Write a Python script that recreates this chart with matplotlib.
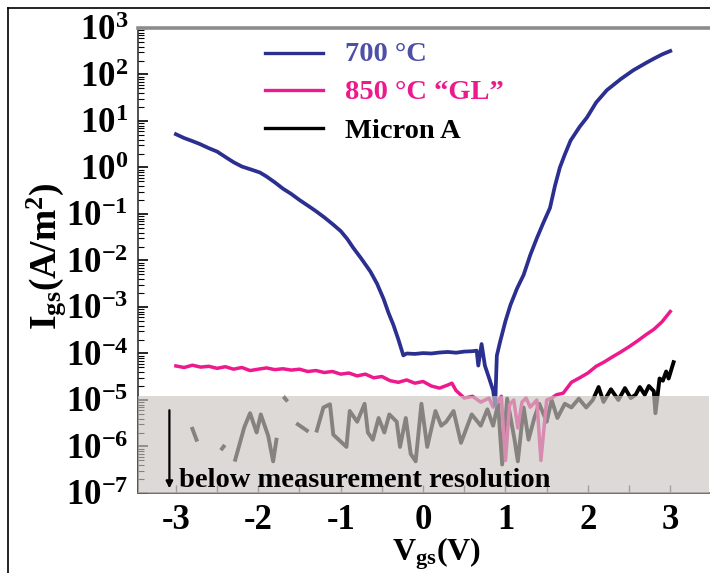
import numpy as np
import matplotlib
matplotlib.use('Agg')
import matplotlib.pyplot as plt
from matplotlib.lines import Line2D
from matplotlib.ticker import FixedLocator, LogLocator, NullFormatter

plt.rcParams['font.family'] = ['Liberation Serif', 'DejaVu Serif']
plt.rcParams['font.weight'] = 'bold'
plt.rcParams['mathtext.fontset'] = 'custom'
plt.rcParams['mathtext.rm'] = 'Liberation Serif:bold'
plt.rcParams['mathtext.bf'] = 'Liberation Serif:bold'
plt.rcParams['mathtext.it'] = 'Liberation Serif:bold'
plt.rcParams['axes.unicode_minus'] = False

nan = np.nan

# ---- data ----
v700 = [-3.0, -2.9, -2.8, -2.71, -2.6, -2.5, -2.38, -2.3, -2.2, -2.1, -1.98, -1.9, -1.8, -1.7,
        -1.6, -1.5, -1.37, -1.3, -1.2, -1.09, -1.0, -0.92, -0.85, -0.75, -0.64, -0.56, -0.48,
        -0.42, -0.36, -0.30, -0.24, -0.2, -0.1, 0.0, 0.1, 0.2, 0.3, 0.4, 0.5, 0.6, 0.65, 0.67,
        0.71, 0.75, 0.80, 0.85, 0.875, 0.895, 0.935, 1.0, 1.06, 1.14, 1.22, 1.30, 1.38, 1.46,
        1.54, 1.60, 1.66, 1.72, 1.79, 1.9, 1.99, 2.1, 2.23, 2.4, 2.55, 2.7, 2.8, 2.9, 3.0]
i700 = [5.2, 4.3, 3.7, 3.2, 2.6, 2.2, 1.6, 1.3, 1.05, 0.92, 0.78, 0.64, 0.48, 0.35,
        0.27, 0.2, 0.14, 0.115, 0.085, 0.059, 0.043, 0.029, 0.019, 0.011, 0.0058, 0.0032, 0.0015,
        7.5e-4, 4.1e-4, 2.0e-4, 9.1e-5, 1.0e-4, 0.98e-4, 1.02e-4, 1.0e-4, 1.05e-4, 1.08e-4,
        1.04e-4, 1.1e-4, 1.12e-4, 1.15e-4, 5.5e-5, 1.6e-4, 5.5e-5, 3.0e-5, 1.6e-5, 7.6e-6,
        9.0e-5, 1.8e-4, 5.0e-4, 1.1e-3, 2.5e-3, 4.9e-3, 1.3e-2, 3.0e-2, 6.5e-2, 0.135, 0.4,
        1.0, 1.9, 3.8, 7.5, 12, 25, 46, 80, 123, 175, 219, 270, 320]

v850 = [-3.0, -2.9, -2.8, -2.7, -2.6, -2.5, -2.4, -2.3, -2.2, -2.1, -2.0, -1.9, -1.8, -1.7,
        -1.6, -1.5, -1.4, -1.3, -1.2, -1.1, -1.0, -0.9, -0.8, -0.7, -0.6, -0.5, -0.4, -0.3,
        -0.2, -0.1, 0.0, 0.1, 0.2, 0.3, 0.35, 0.4, 0.5, 0.6, 0.7, 0.8, 0.85, 0.9, 0.95, 1.0,
        1.05, 1.1, 1.15, 1.2, 1.25, 1.3, 1.38, 1.43, 1.5, 1.56, 1.62, 1.7, 1.8, 1.9, 2.0, 2.1,
        2.2, 2.3, 2.4, 2.5, 2.6, 2.7, 2.8, 2.9, 3.0]
i850 = [5.4e-5, 5.0e-5, 5.6e-5, 5.1e-5, 5.3e-5, 4.8e-5, 5.2e-5, 4.6e-5, 5.0e-5, 4.3e-5, 4.6e-5,
        4.9e-5, 4.5e-5, 4.7e-5, 4.4e-5, 4.6e-5, 4.1e-5, 4.3e-5, 3.9e-5, 4.1e-5, 3.6e-5, 3.8e-5,
        3.3e-5, 3.6e-5, 3.0e-5, 3.2e-5, 2.6e-5, 2.4e-5, 2.7e-5, 2.3e-5, 2.5e-5, 2.0e-5, 1.8e-5,
        2.1e-5, 2.3e-5, 1.6e-5, 1.1e-5, 1.2e-5, 9.0e-6, 1.1e-5, 7.0e-6, 9.0e-6, 1.2e-5, 5.0e-7,
        8.0e-6, 1.0e-5, 2.5e-6, 9.0e-6, 1.1e-5, 7.0e-6, 1.0e-5, 5.0e-7, 1.0e-5, 1.1e-5, 1.3e-5,
        1.4e-5, 2.4e-5, 3.0e-5, 3.8e-5, 5.3e-5, 6.6e-5, 8.5e-5, 1.08e-4, 1.4e-4, 1.85e-4,
        2.5e-4, 3.3e-4, 4.8e-4, 8.0e-4]

vmic = [-2.80, -2.75, nan, -2.44, -2.42, nan, -2.28, -2.17, -2.10, -2.02, -1.97, -1.88, -1.82,
        -1.78, nan, -1.68, -1.66, nan, -1.52, -1.41, nan, -1.29, -1.21, -1.13, -1.09, -0.93,
        -0.89, -0.80, -0.71, -0.67, -0.61, -0.54, -0.47, -0.41, -0.32, -0.28, -0.21, -0.15,
        -0.09, -0.02, 0.05, 0.15, 0.22, 0.28, 0.37, 0.46, 0.59, 0.70, 0.78, 0.85, 0.91, 0.96,
        1.02, 1.11, 1.15, 1.22, 1.28, 1.35, 1.41, 1.50, 1.56, 1.63, 1.72, 1.80, 1.89, 1.98,
        2.06, 2.13, 2.19, 2.28, 2.37, 2.45, 2.52, 2.58, 2.63, 2.69, 2.74, 2.80, 2.82, 2.87,
        2.91, 2.95, 2.98, 3.04]
imic = [2.4e-6, 1.4e-6, nan, 9.0e-7, 1.0e-6, nan, 5.2e-7, 2.6e-6, 5.2e-6, 2.0e-6, 4.9e-6,
        1.7e-6, 4.8e-7, 1.4e-6, nan, 1.1e-5, 1.0e-5, nan, 3.0e-6, 2.2e-6, nan, 2.2e-6, 6.9e-6,
        8.1e-6, 1.8e-6, 9.8e-7, 5.8e-6, 3.4e-6, 8.3e-6, 2.0e-6, 1.4e-6, 4.1e-6, 2.0e-6,
        4.9e-6, 3.4e-6, 9.8e-7, 4.1e-6, 6.9e-7, 4.8e-7, 8.3e-6, 9.8e-7, 5.8e-6, 2.8e-6,
        3.4e-6, 5.8e-6, 1.2e-6, 4.9e-6, 2.8e-6, 6.3e-6, 2.8e-6, 8.3e-6, 4.1e-7, 1.07e-5,
        1.4e-6, 4.8e-7, 6.9e-6, 1.4e-6, 4.1e-6, 8.3e-6, 3.4e-6, 1.0e-5, 4.1e-6, 8.3e-6,
        6.9e-6, 1.07e-5, 6.9e-6, 1.0e-5, 1.9e-5, 9.1e-6, 1.7e-5, 1.0e-5, 1.8e-5, 1.1e-5,
        1.3e-5, 1.9e-5, 1.3e-5, 2.0e-5, 1.55e-5, 5.2e-6, 2.9e-5, 2.6e-5, 4.1e-5, 2.9e-5, 6.5e-5]

labels = ['700 \u00b0C', '850 \u00b0C \u201cGL\u201d', 'Micron A']
xticks = [-3, -2, -1, 0, 1, 2, 3]
ydecades = list(range(-7, 4))
resolution_limit = 1.2e-5

c_blue = '#2b2f8f'
c_pink = '#ec1a8c'
c_black = '#000000'

W, H = 710, 573
fig = plt.figure(figsize=(W / 100, H / 100), dpi=100)
L, R, T, B = 138, 709, 28, 493
ax = fig.add_axes([L / W, (H - B) / H, (R - L) / W, (B - T) / H])
ax.set_yscale('log')
ax.set_xlim(-3.46, 3.47)
ax.set_ylim(1e-7, 1e3)

ax.plot(vmic, imic, color=c_black, lw=2.8, zorder=2, solid_joinstyle='round')
ax.plot(v850, i850, color=c_pink, lw=2.5, zorder=2.5, solid_joinstyle='round')
ax.plot(v700, i700, color=c_blue, lw=2.7, zorder=3, solid_joinstyle='round')

ax.axhspan(1e-7, resolution_limit, facecolor=(0.80, 0.776, 0.76), alpha=0.66, lw=0, zorder=4)

# ticks
ax.xaxis.set_major_locator(FixedLocator(xticks))
ax.xaxis.set_minor_locator(FixedLocator([x + 0.5 for x in xticks[:-1]]))
ax.set_xticklabels([str(x) for x in xticks])
ax.yaxis.set_major_locator(FixedLocator([10.0 ** d for d in ydecades]))
ax.set_yticklabels([r'$\mathbf{10^{%d}}$' % d for d in ydecades])
ax.yaxis.set_minor_locator(LogLocator(base=10, subs=np.arange(2, 10), numticks=100))
ax.yaxis.set_minor_formatter(NullFormatter())
ax.tick_params(axis='x', which='both', direction='in', length=6, width=1, pad=8,
               labelsize=25, color='#555555')
ax.tick_params(axis='y', which='major', direction='in', length=7, width=1.2, pad=7,
               labelsize=25)
ax.tick_params(axis='y', which='minor', direction='in', length=4, width=0.8)
for lab in ax.get_xticklabels() + ax.get_yticklabels():
    lab.set_fontweight('bold')

ax.spines['top'].set_color('#8c8c8c')
ax.spines['top'].set_linewidth(2.6)
ax.spines['right'].set_visible(False)
ax.spines['left'].set_color('#222222')
ax.spines['left'].set_linewidth(1.1)
ax.spines['bottom'].set_color('#666666')
ax.spines['bottom'].set_linewidth(1.3)

# legend (manual)
tcol = ['#4d4fa8', c_pink, c_black]
lcol = [c_blue, c_pink, c_black]
ly = [0.947, 0.867, 0.786]
ty = [0.943, 0.861, 0.778]
for k in range(3):
    ax.add_line(Line2D([0.222, 0.324], [ly[k], ly[k]], transform=ax.transAxes,
                       color=lcol[k], lw=2.4, zorder=6))
    ax.text(0.362, ty[k], labels[k], transform=ax.transAxes, color=tcol[k],
            fontsize=20.5, fontweight='bold', va='center', ha='left', zorder=6)

# resolution note
ax.text(0.071, 0.012, 'below measurement resolution', transform=ax.transAxes,
        fontsize=20.5, fontweight='bold', va='baseline', ha='left', zorder=6)
ax.annotate('', xy=(0.055, 0.010), xytext=(0.055, 0.178), xycoords='axes fraction',
            arrowprops=dict(arrowstyle='-|>', color='black', lw=1.6,
                            mutation_scale=10, shrinkA=0, shrinkB=0), zorder=6)

# axis labels
fig.text(46 / W, 1 - 256 / H, r'$\mathbf{I_{gs}(A/m^{2})}$', rotation=90,
         fontsize=27, ha='center', va='center')
fig.text(437 / W, 1 - 535 / H, r'$\mathbf{V_{gs}(V)}$', fontsize=23,
         ha='center', va='top')

# figure border
fig.add_artist(Line2D([8 / W, 1.0], [1 - 8 / H, 1 - 8 / H], transform=fig.transFigure,
                      color='black', lw=1.2))
fig.add_artist(Line2D([8 / W, 8 / W], [0.0, 1 - 8 / H], transform=fig.transFigure,
                      color='black', lw=1.2))

fig.savefig('out.png', dpi=100)
